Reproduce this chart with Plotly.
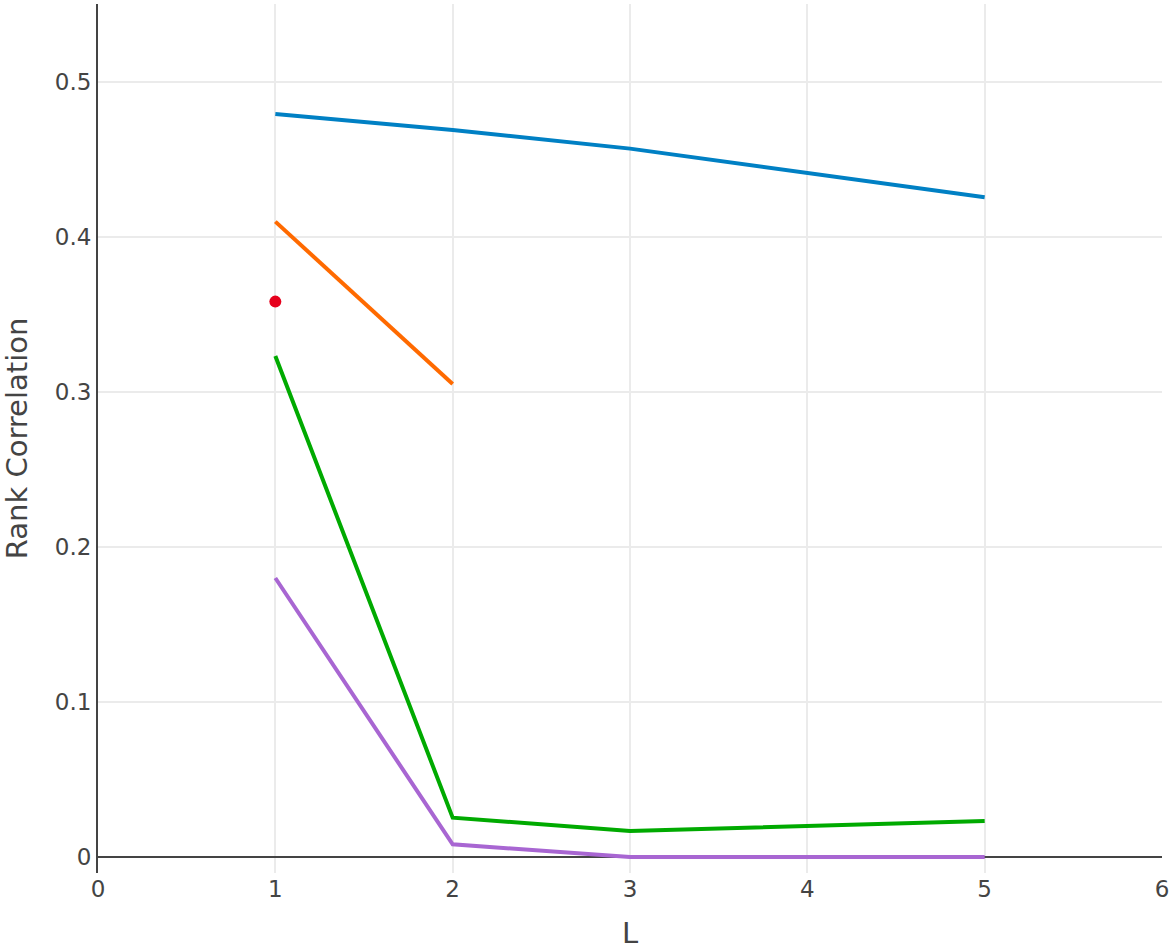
import plotly.graph_objects as go

# valores
L_full = [1, 2, 3, 5]
L_short = [1, 2]
L_one = [1]

azul = [0.4794, 0.469, 0.457, 0.4256]
laranja = [0.4099, 0.3052]
vermelho = [0.3583]
verde = [0.3232, 0.0254, 0.0168, 0.0232]
roxo = [0.18, 0.0082, 0.0, 0.0]

fig = go.Figure()

fig.add_trace(go.Scatter(x=L_full, y=azul, mode='lines', name='azul',
                         line=dict(color='#0080c4', width=4)))
fig.add_trace(go.Scatter(x=L_short, y=laranja, mode='lines', name='laranja',
                         line=dict(color='#ff6a00', width=4)))
fig.add_trace(go.Scatter(x=L_one, y=vermelho, mode='markers', name='vermelho',
                         marker=dict(color='#e6001c', size=12)))
fig.add_trace(go.Scatter(x=L_full, y=verde, mode='lines', name='verde',
                         line=dict(color='#00aa00', width=4)))
fig.add_trace(go.Scatter(x=L_full, y=roxo, mode='lines', name='roxo',
                         line=dict(color='#a866d2', width=4)))

fig.update_layout(
    width=1172, height=950,
    margin=dict(l=98, r=10, t=4, b=77),
    plot_bgcolor='white', paper_bgcolor='white',
    showlegend=False,
    font=dict(family='DejaVu Sans', size=23, color='#444'),
    xaxis=dict(
        title=dict(text='L', font=dict(size=29), standoff=30),
        tickfont=dict(size=23),
        range=[0, 6], dtick=1, automargin=False,
        showgrid=True, gridcolor='#ebebeb', gridwidth=2,
        zeroline=False, showline=False,
    ),
    yaxis=dict(
        title=dict(text='Rank Correlation', font=dict(size=29), standoff=37),
        tickfont=dict(size=23),
        range=[-0.0103, 0.5503], dtick=0.1, automargin=False,
        showgrid=True, gridcolor='#ebebeb', gridwidth=2,
        zeroline=True, zerolinecolor='#444', zerolinewidth=2,
        showline=True, linecolor='#444', linewidth=2,
    ),
)

# tira a margem padrao do body para a figura comecar no canto
fig.write_html("out.html", config={'displayModeBar': False},
               post_script="document.body.style.margin='0';")
